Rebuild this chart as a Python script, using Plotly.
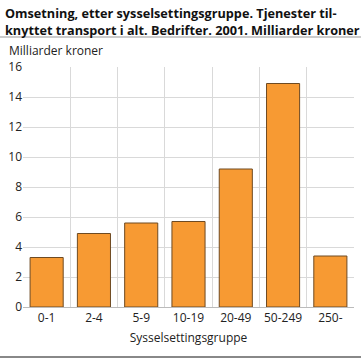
import plotly.graph_objects as go

categories = ["0-1", "2-4", "5-9", "10-19", "20-49", "50-249", "250-"]
values = [3.3, 4.9, 5.6, 5.7, 9.2, 14.9, 3.4]
y_ticks = [0, 2, 4, 6, 8, 10, 12, 14, 16]

W, H = 361, 358
ml, mr, mt, mb = 23, 7, 67, 51
pw, ph = W - ml - mr, H - mt - mb

fig = go.Figure(go.Bar(
    x=categories, y=values,
    marker=dict(color="#f79a33", line=dict(color="#6e4a22", width=1)),
    width=0.7,
))

font = "Open Sans, DejaVu Sans, sans-serif"
fig.update_layout(
    width=W, height=H,
    margin=dict(l=ml, r=mr, t=mt, b=mb, autoexpand=False),
    paper_bgcolor="white", plot_bgcolor="white",
    showlegend=False,
    font=dict(family=font, size=12, color="#222"),
    xaxis=dict(
        type="category", tickson="boundaries", showgrid=True, automargin=False,
        gridcolor="#d9d9d9", gridwidth=1, ticks="", showline=True,
        linecolor="#bbbbbb", tickfont=dict(size=12, color="#222"),
        title=dict(text="Sysselsettingsgruppe", font=dict(size=12, color="#222"), standoff=8),
    ),
    yaxis=dict(
        range=[0, 16], tickvals=y_ticks, showgrid=True, gridcolor="#d9d9d9",
        gridwidth=1, zeroline=False, showline=False, ticks="", automargin=False,
        tickfont=dict(size=12, color="#222"),
    ),
    annotations=[
        dict(text="<b>Omsetning, etter sysselsettingsgruppe. Tjenester til-<br>knyttet transport i alt. Bedrifter. 2001. Milliarder kroner</b>",
             xref="paper", yref="paper", x=-(ml - 3) / pw, y=1 + (mt - 2) / ph,
             xanchor="left", yanchor="top", align="left", showarrow=False,
             font=dict(size=12.7, color="#111", family=font)),
        dict(text="Milliarder kroner", xref="paper", yref="paper",
             x=-(ml - 7) / pw, y=1 + (mt - 50) / ph, xanchor="left", yanchor="middle",
             showarrow=False, font=dict(size=12, color="#222", family=font)),
    ],
    shapes=[
        dict(type="line", xref="paper", yref="paper", x0=-ml / pw, x1=1 + mr / pw,
             y0=1 + (mt - 37) / ph, y1=1 + (mt - 37) / ph, line=dict(color="#999", width=1)),
        dict(type="line", xref="paper", yref="paper", x0=-ml / pw, x1=1 + mr / pw,
             y0=-(mb - 1) / ph, y1=-(mb - 1) / ph, line=dict(color="#888", width=2)),
    ],
)
fig.write_html("out.html", config={"displayModeBar": False},
               post_script="document.body.style.margin='0';")
